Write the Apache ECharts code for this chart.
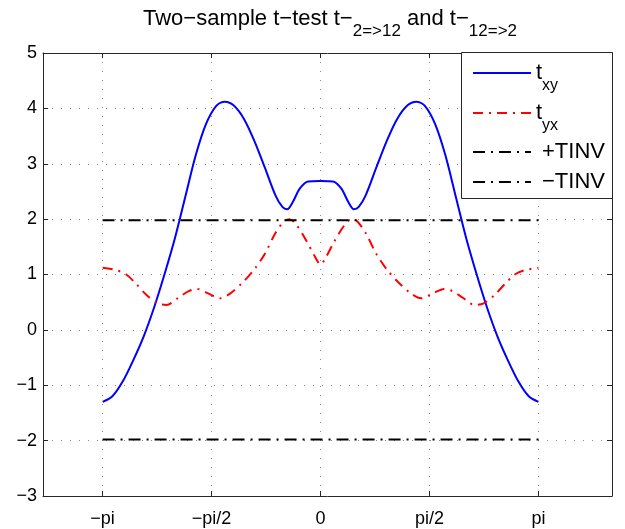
<!DOCTYPE html>
<html>
<head>
<meta charset="utf-8">
<script src="https://cdn.jsdelivr.net/npm/echarts@6/dist/echarts.min.js"></script>
<style>
  html, body { margin: 0; padding: 0; background: #fff; }
  #chart { width: 625px; height: 529px; }
</style>
</head>
<body>
<div id="chart"></div>
<script>
const PI = Math.PI
const font = 'Liberation Sans'

// x ticks at multiples of pi/2
const xTicks = [-PI, -PI / 2, 0, PI / 2, PI]
const xTickLabels = ['−pi', '−pi/2', '0', 'pi/2', 'pi']

// t_xy (blue solid)
const xyX = [-3.14, -3.00, -2.85, -2.70, -2.55, -2.40, -2.25, -2.10, -1.95, -1.80, -1.65, -1.50, -1.38, -1.25, -1.10, -0.95, -0.80, -0.65, -0.55, -0.48, -0.40, -0.30, -0.18, 0,
  0.18, 0.30, 0.40, 0.48, 0.55, 0.65, 0.80, 0.95, 1.10, 1.25, 1.38, 1.50, 1.65, 1.80, 1.95, 2.10, 2.25, 2.40, 2.55, 2.70, 2.85, 3.00, 3.14]
const xyY = [-1.30, -1.20, -0.93, -0.55, -0.12, 0.40, 1.00, 1.65, 2.40, 3.15, 3.72, 4.05, 4.12, 4.05, 3.80, 3.40, 2.92, 2.43, 2.22, 2.18, 2.31, 2.55, 2.68, 2.69,
  2.68, 2.55, 2.31, 2.18, 2.22, 2.43, 2.92, 3.40, 3.80, 4.05, 4.12, 4.05, 3.72, 3.15, 2.40, 1.65, 1.00, 0.40, -0.12, -0.55, -0.93, -1.20, -1.30]

// t_yx (red dash-dot)
const yxX = [-3.14, -2.95, -2.80, -2.65, -2.50, -2.35, -2.22, -2.05, -1.90, -1.78, -1.62, -1.45, -1.30, -1.12, -0.95, -0.80, -0.65, -0.52, -0.45, -0.35, -0.20, -0.08, 0,
  0.08, 0.20, 0.35, 0.45, 0.52, 0.65, 0.80, 0.95, 1.12, 1.30, 1.45, 1.62, 1.78, 1.90, 2.05, 2.22, 2.35, 2.50, 2.65, 2.80, 2.95, 3.14]
const yxY = [1.12, 1.08, 1.00, 0.82, 0.62, 0.48, 0.45, 0.58, 0.70, 0.74, 0.66, 0.57, 0.66, 0.86, 1.10, 1.38, 1.75, 1.97, 2.00, 1.90, 1.60, 1.32, 1.18,
  1.32, 1.60, 1.90, 2.00, 1.97, 1.75, 1.38, 1.10, 0.86, 0.66, 0.57, 0.66, 0.74, 0.70, 0.58, 0.45, 0.48, 0.62, 0.82, 1.00, 1.08, 1.12]

// +/- TINV thresholds
const tinvX = [-PI, PI]
const tinv = 1.98

const names = ['txy', 'tyx', '+TINV', '−TINV']
const legendText = {
  'txy': '{m|t}{s|xy}',
  'tyx': '{m|t}{s|yx}',
  '+TINV': '{p|+TINV}',
  '−TINV': '{p|−TINV}'
}
// vertical spot of each legend entry inside the box
const legendTops = [62, 102, 141, 171]

const pairs = (xs, ys) => xs.map((x, i) => [x, ys[i]])
const axisColor = '#262626'
const gridLine = { show: true, lineStyle: { color: '#8a8a8a', width: 1, type: [1, 8] } }

const legends = names.map((n, i) => ({
  orient: 'vertical',
  left: 461,
  top: legendTops[i],
  itemWidth: 58,
  itemHeight: 14,
  padding: [0, 0, 0, 11],
  data: [n],
  formatter: k => legendText[k],
  itemStyle: { opacity: 0 },
  textStyle: {
    fontFamily: font, color: '#000',
    rich: {
      m: { fontFamily: font, fontSize: 22, lineHeight: 42, verticalAlign: 'middle', color: '#000' },
      s: { fontFamily: font, fontSize: 16, lineHeight: 16, verticalAlign: 'bottom', color: '#000' },
      p: { fontFamily: font, fontSize: 22, lineHeight: 28, padding: [0, 0, 0, 6], color: '#000' }
    }
  }
}))

const chart = echarts.init(document.getElementById('chart'))
chart.setOption({
  animation: false,
  backgroundColor: '#fff',
  title: {
    text: 'Two−sample t−test t−{s|2=>12} and t−{s|12=>2}',
    left: 330,
    textAlign: 'center',
    top: -2,
    padding: 0,
    textStyle: {
      fontFamily: font, fontSize: 22, fontWeight: 'normal', color: '#000', lineHeight: 42,
      rich: { s: { fontFamily: font, fontSize: 17, lineHeight: 17, verticalAlign: 'bottom', color: '#000' } }
    }
  },
  grid: { left: 43, right: 13, top: 53, bottom: 33, containLabel: false },
  graphic: [{
    type: 'rect', z: 3,
    shape: { x: 461.5, y: 52.5, width: 151, height: 146 },
    style: { fill: '#fff', stroke: axisColor, lineWidth: 1 }
  }],
  legend: legends,
  xAxis: [{
    type: 'value', min: -4, max: 4.2, position: 'bottom',
    axisLine: { show: true, onZero: false, lineStyle: { color: axisColor, width: 1 } },
    axisTick: { show: true, inside: true, length: 5, customValues: xTicks, lineStyle: { color: axisColor } },
    axisLabel: {
      customValues: xTicks, margin: 14, fontFamily: font, fontSize: 18, color: '#000',
      formatter: v => xTickLabels[xTicks.findIndex(t => Math.abs(t - v) < 1e-6)]
    },
    splitLine: gridLine
  }, {
    type: 'value', min: -4, max: 4.2, position: 'top',
    axisLine: { show: true, onZero: false, lineStyle: { color: axisColor, width: 1 } },
    axisTick: { show: true, inside: true, length: 5, customValues: xTicks, lineStyle: { color: axisColor } },
    axisLabel: { show: false },
    splitLine: { show: false }
  }],
  yAxis: [{
    type: 'value', min: -3, max: 5, interval: 1, position: 'left',
    axisLine: { show: true, onZero: false, lineStyle: { color: axisColor, width: 1 } },
    axisTick: { show: true, inside: true, length: 5, lineStyle: { color: axisColor } },
    axisLabel: { margin: 6, fontFamily: font, fontSize: 18, color: '#000', formatter: v => String(v).replace('-', '−') },
    splitLine: gridLine
  }, {
    type: 'value', min: -3, max: 5, interval: 1, position: 'right',
    axisLine: { show: true, onZero: false, lineStyle: { color: axisColor, width: 1 } },
    axisTick: { show: true, inside: true, length: 5, lineStyle: { color: axisColor } },
    axisLabel: { show: false },
    splitLine: { show: false }
  }],
  series: [{
    name: 'txy', type: 'line', data: pairs(xyX, xyY), smooth: 0.3, symbol: 'none',
    lineStyle: { color: '#0000ff', width: 2 }, itemStyle: { color: '#0000ff' }
  }, {
    name: 'tyx', type: 'line', data: pairs(yxX, yxY), smooth: 0.3, symbol: 'none',
    lineStyle: { color: '#ff0000', width: 2, type: [10, 6, 2, 6] }, itemStyle: { color: '#ff0000' }
  }, {
    name: '+TINV', type: 'line', data: pairs(tinvX, [tinv, tinv]), symbol: 'none',
    lineStyle: { color: '#000', width: 2, type: [12, 6, 2, 6] }, itemStyle: { color: '#000' }
  }, {
    name: '−TINV', type: 'line', data: pairs(tinvX, [-tinv, -tinv]), symbol: 'none',
    lineStyle: { color: '#000', width: 2, type: [12, 6, 2, 6] }, itemStyle: { color: '#000' }
  }]
})
</script>
</body>
</html>
